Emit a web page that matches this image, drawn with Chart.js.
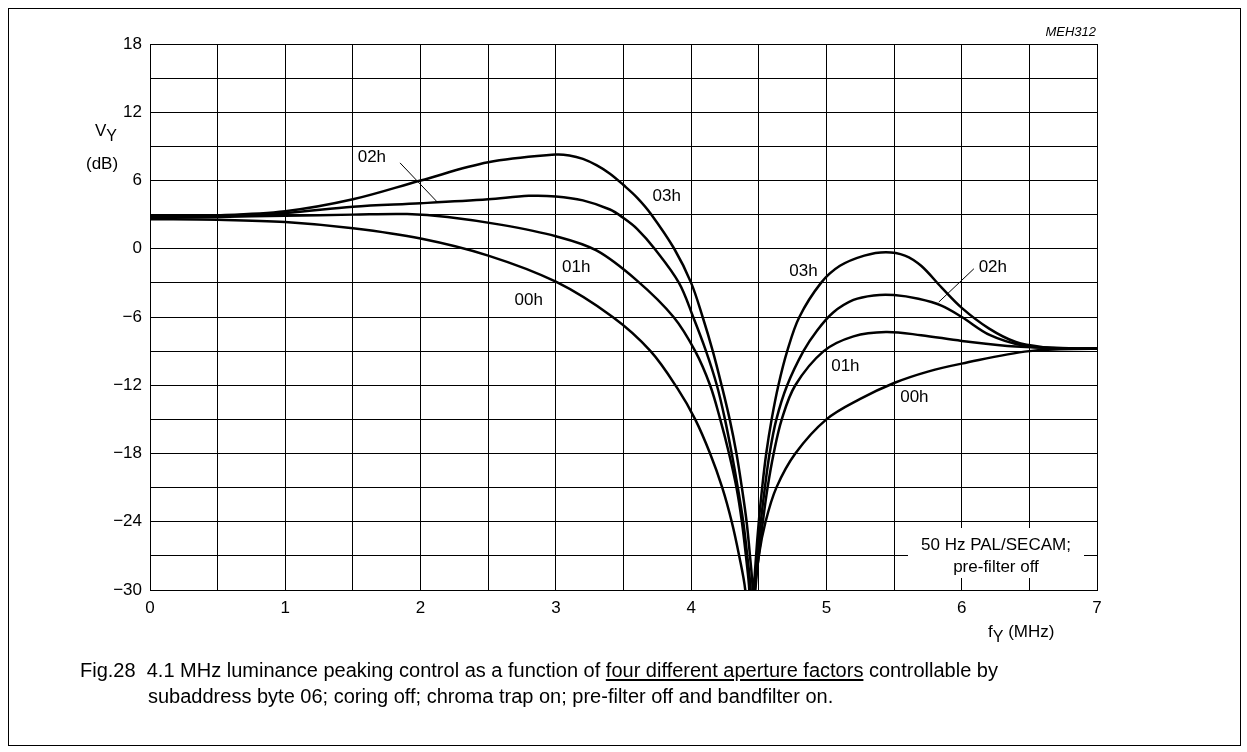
<!DOCTYPE html>
<html>
<head>
<meta charset="utf-8">
<script src="https://cdn.jsdelivr.net/npm/chart.js@4.4.1/dist/chart.umd.min.js"></script>
<style>
  body { margin: 0; background: #fff; }
  #wrap { position: relative; width: 1247px; height: 752px; font-family: "Liberation Sans", Arial, sans-serif; color: #000; }
  #chart { position: absolute; left: 0; top: 0; }
  .frame { position: absolute; left: 8px; top: 8px; width: 1231px; height: 736px; border: 1px solid #000; }
  .t { position: absolute; white-space: nowrap; font-size: 17px; line-height: 1; }
  .t sub { font-size: 16px; vertical-align: -5px; line-height: 0; }
  .code { font-style: italic; font-size: 13px; }
  .cap { font-size: 20px; }
  .cap u { text-underline-offset: 2px; }
</style>
</head>
<body>
<div id="wrap">
  <div class="frame"></div>
  <canvas id="chart" width="1247" height="752"></canvas>
  <div class="t code" style="left:1040px; top:25px; width:56px; text-align:right;">MEH312</div>
  <div class="t" style="left:95px; top:122px;">V<sub>Y</sub></div>
  <div class="t" style="left:86px; top:155px;">(dB)</div>
  <div class="t" style="left:988px; top:623px;">f<sub>Y</sub> (MHz)</div>
  <div class="t cap" style="left:80px; top:660px;">Fig.28&nbsp;&nbsp;4.1 MHz luminance peaking control as a function of <u>four different aperture factors</u> controllable by</div>
  <div class="t cap" style="left:148px; top:686px;">subaddress byte 06; coring off; chroma trap on; pre-filter off and bandfilter on.</div>
</div>
<script>
// frequency (MHz) and gain (dB)
const f00 = [0, 0.5, 1.0, 1.5, 2.0, 2.5, 3.0, 3.42, 3.7, 3.9, 4.03, 4.14, 4.23, 4.30, 4.355, 4.40, 4.44, 4.475, 4.5, 4.55, 4.63, 4.77, 5.0, 5.25, 5.5, 5.75, 6.0, 6.5, 7.0];
const v00 = [2.6, 2.55, 2.35, 1.8, 0.9, -0.6, -2.9, -6, -9, -12.3, -15, -18, -21, -24, -27, -30, -36, -30, -27, -24, -21, -18, -15, -13.2, -11.8, -10.8, -10.1, -9.0, -8.78];

const f01 = [0, 0.5, 1.0, 1.5, 1.9, 2.2, 2.6, 3.0, 3.3, 3.6, 3.87, 4.03, 4.14, 4.215, 4.28, 4.335, 4.375, 4.405, 4.43, 4.45, 4.47, 4.50, 4.53, 4.565, 4.61, 4.67, 4.77, 4.98, 5.2, 5.44, 5.7, 6.0, 6.4, 7.0];
const v01 = [2.75, 2.8, 2.9, 3.0, 3.05, 2.8, 2.1, 1.1, -0.15, -2.8, -6, -9, -12, -15, -18, -21, -24, -27, -30, -36, -30, -27, -24, -21, -18, -15, -12, -9, -7.7, -7.32, -7.6, -8.1, -8.6, -8.78];

const f02 = [0, 0.5, 1.0, 1.5, 2.0, 2.5, 2.8, 3.0, 3.2, 3.4, 3.5, 3.6, 3.73, 3.91, 4.015, 4.11, 4.19, 4.25, 4.30, 4.345, 4.385, 4.415, 4.44, 4.455, 4.47, 4.49, 4.515, 4.545, 4.58, 4.63, 4.71, 4.83, 4.93, 5.05, 5.2, 5.35, 5.5, 5.68, 5.85, 6.0, 6.21, 6.45, 6.7, 7.0];
const v02 = [2.85, 2.9, 3.15, 3.7, 4.0, 4.35, 4.65, 4.6, 4.25, 3.45, 2.7, 1.75, 0, -3, -6, -9, -12, -15, -18, -21, -24, -27, -30, -36, -30, -27, -24, -21, -18, -15, -12, -9, -7.2, -5.6, -4.5, -4.1, -4.07, -4.4, -5.0, -6.0, -7.6, -8.5, -8.75, -8.78];

const f03 = [0, 0.5, 1.0, 1.5, 2.0, 2.5, 3.0, 3.1, 3.2, 3.3, 3.4, 3.5, 3.6, 3.70, 3.875, 4.0, 4.085, 4.16, 4.225, 4.285, 4.335, 4.375, 4.41, 4.435, 4.455, 4.46, 4.465, 4.48, 4.50, 4.525, 4.555, 4.595, 4.645, 4.71, 4.80, 4.96, 5.1, 5.28, 5.44, 5.58, 5.7, 5.85, 6.0, 6.2, 6.4, 6.6, 6.8, 7.0];
const v03 = [2.9, 2.95, 3.3, 4.35, 6.0, 7.6, 8.28, 8.2, 7.9, 7.35, 6.6, 5.6, 4.5, 3.1, 0, -3, -6, -9, -12, -15, -18, -21, -24, -27, -30, -36, -30, -27, -24, -21, -18, -15, -12, -9, -6, -3, -1.5, -0.6, -0.3, -0.6, -1.5, -3.4, -5.2, -7.0, -8.2, -8.65, -8.75, -8.78];

const xTicks = [0, 1, 2, 3, 4, 5, 6, 7];
const yTicks = [-30, -24, -18, -12, -6, 0, 6, 12, 18];

const curves = [[f00, v00], [f01, v01], [f02, v02], [f03, v03]];

function pts(fs, vs) {
  return fs.map((f, i) => ({ x: f, y: vs[i] }));
}

const FONT = '"Liberation Sans", Arial, sans-serif';

// curve names, leader lines and the note box
const notes = {
  id: 'notes',
  afterDatasetsDraw(chart) {
    const { ctx, scales: { x, y } } = chart;
    const px = f => x.getPixelForValue(f);
    const py = v => y.getPixelForValue(v);
    ctx.save();

    ctx.fillStyle = '#fff';
    ctx.fillRect(908, 528, 176, 50);

    ctx.fillStyle = '#000';
    ctx.font = '17px ' + FONT;
    ctx.textAlign = 'center';
    ctx.textBaseline = 'middle';
    const labels = [
      ['02h', 1.64, 8.0], ['03h', 3.82, 4.57], ['01h', 3.15, -1.67], ['00h', 2.80, -4.5],
      ['03h', 4.83, -1.97], ['01h', 5.14, -10.3], ['00h', 5.65, -13.1], ['02h', 6.23, -1.67]
    ];
    labels.forEach(l => ctx.fillText(l[0], px(l[1]), py(l[2])));

    ctx.fillText('50 Hz PAL/SECAM;', 996, 545);
    ctx.fillText('pre-filter off', 996, 567);

    ctx.strokeStyle = '#000';
    ctx.lineWidth = 1;
    ctx.beginPath();
    ctx.moveTo(px(1.848), py(7.55));
    ctx.lineTo(px(2.12), py(4.15));
    ctx.moveTo(px(6.09), py(-1.76));
    ctx.lineTo(px(5.83), py(-4.69));
    ctx.stroke();
    ctx.restore();
  }
};

new Chart(document.getElementById('chart'), {
  type: 'line',
  data: {
    datasets: curves.map(c => ({
      data: pts(c[0], c[1]),
      borderColor: '#000',
      borderWidth: 2.5,
      pointRadius: 0,
      fill: false,
      tension: 0.35,
      clip: 0
    }))
  },
  options: {
    responsive: false,
    animation: false,
    events: [],
    layout: { padding: { left: 0, top: 44, right: 150, bottom: 132 } },
    plugins: { legend: { display: false }, tooltip: { enabled: false } },
    scales: {
      x: {
        type: 'linear',
        min: 0,
        max: 7,
        afterFit(s) { s.height = 30; },
        ticks: {
          stepSize: 0.5,
          autoSkip: false,
          maxRotation: 0,
          padding: 8,
          color: '#000',
          font: { size: 17, family: FONT },
          callback: v => xTicks.includes(v) ? String(v) : ''
        },
        grid: { color: '#000', lineWidth: 1, drawTicks: false },
        border: { color: '#000', width: 1 }
      },
      y: {
        min: -30,
        max: 18,
        afterFit(s) { s.width = 150; },
        ticks: {
          stepSize: 3,
          autoSkip: false,
          padding: 8,
          color: '#000',
          font: { size: 17, family: FONT },
          callback: v => yTicks.includes(v) ? (v < 0 ? '\u2212' + Math.abs(v) : String(v)) : ''
        },
        grid: { color: '#000', lineWidth: 1, drawTicks: false },
        border: { color: '#000', width: 1 }
      }
    }
  },
  plugins: [notes]
});
</script>
</body>
</html>
